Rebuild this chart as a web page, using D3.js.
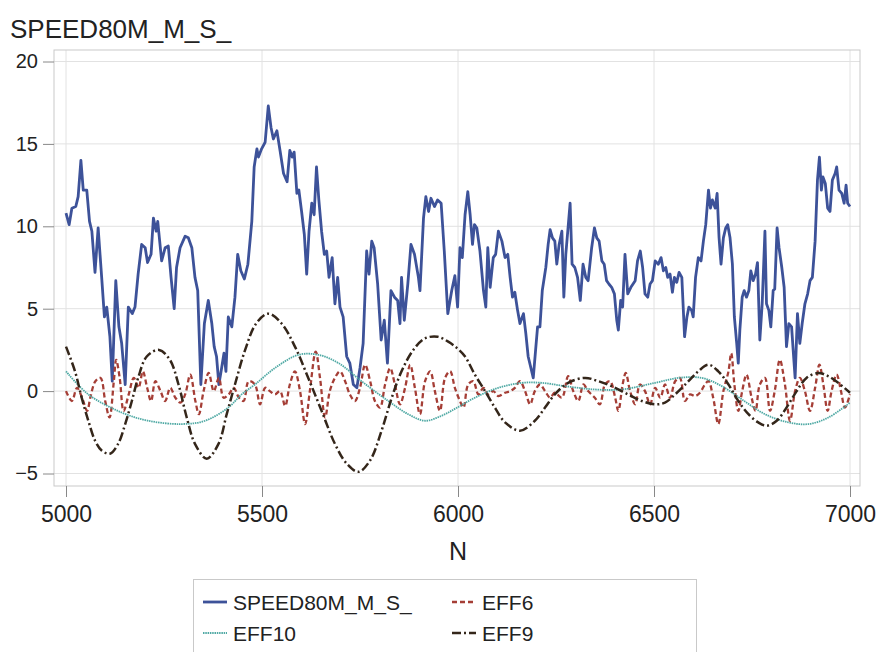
<!DOCTYPE html>
<html>
<head>
<meta charset="utf-8">
<script src="https://cdn.jsdelivr.net/npm/d3@7"></script>
<style>
  body { margin: 0; background: #fff; }
  text { font-family: "Liberation Sans", Arial, sans-serif; fill: #222; }
  .grid line { stroke: #e2e2e2; stroke-width: 1; }
  .axis path { display: none; }
  .axis line { stroke: #888; }
  .axis text { font-size: 20px; fill: #222; }
  .xaxis text { font-family: "Liberation Sans Narrow", "Arial Narrow", "Liberation Sans", sans-serif; font-size: 23px; }
</style>
</head>
<body>
<div id="chart"></div>
<script>
var w = 879;
var h = 652;

// frame of the plot area
var frameL = 54, frameR = 860, frameT = 50, frameB = 486;

var xTicks = [5000, 5500, 6000, 6500, 7000];
var yTicks = [-5, 0, 5, 10, 15, 20];

var seriesNames = ["SPEED80M_M_S_", "EFF6", "EFF10", "EFF9"];

// [N, value]
var speed = [
  [5000,10.8],[5008,10.1],[5015,11.1],[5025,11.2],[5031,11.8],[5038,14.0],[5044,12.2],[5053,12.2],[5060,10.3],[5066,9.7],
  [5074,7.2],[5082,9.9],[5091,6.9],[5098,4.5],[5104,5.1],[5112,3.3],[5118,0.6],[5127,6.7],[5135,3.9],[5142,2.9],
  [5151,0.4],[5159,5.1],[5169,4.7],[5176,5.1],[5184,7.1],[5193,8.9],[5202,8.7],[5208,7.8],[5217,8.3],[5223,10.5],
  [5230,9.7],[5234,10.3],[5244,7.9],[5253,8.7],[5261,8.8],[5268,6.9],[5276,5.0],[5282,7.5],[5291,8.7],[5304,9.4],
  [5312,9.3],[5321,8.7],[5329,6.9],[5336,6.1],[5344,0.4],[5353,4.1],[5363,5.5],[5372,4.1],[5378,2.7],[5384,2.1],
  [5390,0.4],[5397,1.4],[5403,2.3],[5408,1.2],[5414,4.5],[5423,3.9],[5431,5.7],[5438,8.3],[5446,7.3],[5455,6.8],
  [5464,7.7],[5474,10.3],[5480,13.6],[5487,14.7],[5491,14.2],[5499,14.7],[5508,15.1],[5516,17.3],[5523,16.0],[5529,15.3],
  [5538,15.8],[5546,14.6],[5555,13.2],[5564,12.7],[5571,14.6],[5577,14.2],[5582,14.5],[5589,12.0],[5594,12.2],[5601,10.9],
  [5608,9.5],[5614,7.1],[5620,9.7],[5627,11.4],[5633,10.7],[5639,13.6],[5645,11.6],[5652,9.7],[5659,8.3],[5665,8.5],
  [5671,6.9],[5679,8.1],[5686,5.3],[5693,6.9],[5699,5.1],[5707,4.5],[5716,2.1],[5724,1.7],[5733,0.4],[5742,0.2],
  [5750,1.4],[5758,2.9],[5767,8.5],[5773,7.1],[5780,9.1],[5786,8.7],[5795,6.5],[5804,3.1],[5812,4.3],[5820,1.7],
  [5829,6.1],[5838,5.7],[5846,5.5],[5852,4.1],[5856,6.9],[5863,4.3],[5872,6.5],[5880,8.9],[5889,8.3],[5899,6.9],
  [5903,6.1],[5912,10.5],[5918,11.8],[5925,10.9],[5931,11.7],[5940,11.2],[5948,11.6],[5957,11.4],[5965,8.5],[5974,4.7],
  [5984,6.1],[5992,7.0],[5999,5.1],[6005,8.7],[6011,8.1],[6018,10.7],[6025,12.1],[6031,10.7],[6037,8.9],[6042,10.1],
  [6048,9.9],[6056,8.5],[6065,6.1],[6071,5.1],[6076,8.7],[6082,6.3],[6090,8.1],[6096,8.3],[6103,9.7],[6112,9.1],
  [6120,8.1],[6127,8.3],[6133,6.9],[6139,5.7],[6145,6.0],[6152,4.9],[6158,4.1],[6167,4.7],[6173,3.5],[6179,2.1],
  [6186,1.4],[6192,0.8],[6198,2.5],[6203,3.9],[6209,3.9],[6215,6.1],[6224,7.5],[6230,8.9],[6235,9.8],[6241,9.3],
  [6247,9.1],[6252,7.7],[6258,8.9],[6265,9.7],[6270,5.7],[6275,8.3],[6280,9.7],[6286,11.4],[6291,7.7],[6298,7.5],
  [6305,6.9],[6312,5.5],[6319,7.7],[6326,6.9],[6332,6.7],[6341,8.7],[6348,9.9],[6354,9.3],[6360,9.1],[6367,7.9],
  [6373,7.7],[6379,6.7],[6385,6.5],[6392,6.3],[6399,5.9],[6405,4.3],[6409,3.7],[6415,5.5],[6420,5.1],[6426,8.3],
  [6433,5.9],[6441,6.3],[6452,6.7],[6458,7.9],[6465,8.5],[6471,7.5],[6477,5.9],[6484,5.7],[6490,6.5],[6496,6.7],
  [6503,7.9],[6511,7.7],[6518,8.1],[6524,7.3],[6530,7.5],[6535,6.9],[6541,7.1],[6547,6.0],[6552,6.9],[6558,6.6],
  [6564,7.2],[6571,6.9],[6578,3.3],[6584,4.5],[6589,5.1],[6596,4.9],[6600,4.5],[6606,6.9],[6613,8.1],[6620,7.9],
  [6626,9.1],[6632,10.1],[6639,12.2],[6644,11.1],[6649,11.6],[6656,11.1],[6661,12.0],[6666,9.3],[6671,7.7],[6677,9.3],
  [6683,9.9],[6688,10.1],[6694,9.3],[6700,7.7],[6705,4.5],[6711,2.9],[6715,1.7],[6719,3.7],[6725,5.7],[6730,6.1],
  [6736,5.7],[6742,6.1],[6747,7.3],[6753,6.7],[6759,7.1],[6764,7.8],[6770,3.1],[6776,5.3],[6783,9.7],[6787,5.3],
  [6793,4.9],[6798,3.9],[6804,6.1],[6808,6.2],[6814,9.9],[6819,8.7],[6826,7.5],[6832,6.3],[6838,2.7],[6844,4.1],
  [6851,3.9],[6855,2.5],[6860,0.8],[6866,4.7],[6872,2.9],[6878,4.1],[6885,5.3],[6892,5.9],[6898,6.7],[6904,6.9],
  [6911,9.1],[6917,12.8],[6922,14.2],[6927,12.2],[6931,13.0],[6937,12.6],[6943,11.1],[6949,10.9],[6955,12.8],[6962,13.2],
  [6966,13.6],[6972,12.2],[6979,12.0],[6985,11.4],[6990,12.5],[6994,11.4],[7000,11.2]
];

var eff6 = [
  [5000,0.0],[5015,-0.6],[5028,0.2],[5041,-0.4],[5054,-1.2],[5062,-0.4],[5075,0.6],[5088,0.8],[5100,-0.6],[5111,-1.6],
  [5122,0.6],[5128,1.9],[5137,0.8],[5147,-1.2],[5160,-0.2],[5173,0.8],[5185,0.2],[5196,1.2],[5207,0.2],[5217,-0.6],
  [5228,0.6],[5241,0.0],[5253,-0.6],[5266,0.2],[5279,-0.4],[5292,-0.7],[5304,-0.2],[5317,1.0],[5330,-0.6],[5339,-1.4],
  [5351,0.0],[5364,1.1],[5377,0.0],[5390,0.8],[5402,-0.4],[5415,-0.2],[5428,0.2],[5441,-0.4],[5453,-0.6],[5466,0.6],
  [5482,0.4],[5495,-0.8],[5508,0.2],[5520,0.0],[5533,-0.2],[5546,0.0],[5559,-0.9],[5571,0.4],[5584,1.2],[5597,0.0],
  [5610,-2.0],[5622,0.0],[5637,2.4],[5648,0.8],[5661,-1.6],[5673,0.0],[5686,0.8],[5699,1.2],[5712,0.6],[5724,-0.2],
  [5737,-0.6],[5750,0.2],[5763,1.6],[5776,0.6],[5788,-0.6],[5801,-1.0],[5814,0.4],[5827,1.4],[5839,0.4],[5852,-0.8],
  [5865,0.2],[5878,1.6],[5890,0.2],[5903,-1.4],[5916,0.6],[5929,1.2],[5941,0.0],[5954,-1.2],[5967,0.8],[5980,1.2],
  [5992,0.2],[6005,-0.6],[6014,-1.0],[6026,0.4],[6039,0.6],[6052,-0.2],[6065,0.2],[6077,-0.2],[6090,0.0],[6103,-0.3],
  [6120,-0.1],[6133,0.0],[6145,0.2],[6158,0.6],[6171,0.0],[6184,-0.8],[6196,0.0],[6209,0.4],[6222,0.0],[6235,-0.4],
  [6247,-0.1],[6265,-0.4],[6281,0.9],[6294,0.0],[6307,-0.6],[6320,0.4],[6332,0.0],[6349,-0.4],[6362,-0.8],[6375,0.4],
  [6388,0.6],[6401,-0.4],[6409,-1.2],[6420,0.4],[6428,1.1],[6439,0.0],[6452,-0.8],[6464,0.4],[6477,0.0],[6490,-0.8],
  [6503,0.2],[6516,-0.4],[6528,0.4],[6541,-0.4],[6554,0.6],[6566,0.8],[6579,-0.6],[6592,-0.2],[6605,-0.3],[6617,-0.1],
  [6630,0.4],[6639,0.6],[6651,-0.4],[6664,-2.0],[6677,0.0],[6690,1.2],[6697,2.3],[6705,0.4],[6715,-1.2],[6725,0.0],
  [6736,1.0],[6749,-0.4],[6759,-1.2],[6770,0.4],[6783,0.8],[6796,-1.2],[6808,0.0],[6821,1.9],[6834,0.4],[6847,-1.8],
  [6860,0.0],[6872,0.8],[6885,0.0],[6898,-1.2],[6911,0.2],[6922,1.6],[6932,0.4],[6943,-1.2],[6953,0.0],[6966,1.0],
  [6977,0.0],[6987,-1.0],[7000,-0.2]
];

var eff10 = [
  [5000,1.2],[5057,-0.2],[5142,-1.3],[5210,-1.8],[5295,-2.0],[5355,-1.8],[5414,-1.0],[5448,-0.2],[5482,0.4],[5533,1.4],
  [5593,2.2],[5644,2.2],[5695,1.7],[5754,0.6],[5822,-0.6],[5873,-1.4],[5916,-1.8],[5958,-1.5],[5998,-1.0],[6043,-0.4],
  [6103,0.2],[6163,0.5],[6214,0.5],[6273,0.3],[6349,0.1],[6418,0.1],[6503,0.5],[6562,0.8],[6622,0.8],[6673,0.3],
  [6724,-0.5],[6783,-1.4],[6843,-1.9],[6894,-2.0],[6945,-1.6],[7000,-0.7]
];

var eff9 = [
  [5000,2.7],[5023,1.2],[5040,-0.4],[5057,-1.8],[5074,-3.0],[5091,-3.6],[5112,-3.8],[5133,-3.2],[5151,-2.0],[5168,-0.6],
  [5184,0.8],[5206,2.1],[5237,2.5],[5265,1.9],[5287,0.4],[5308,-1.6],[5329,-3.2],[5359,-4.1],[5389,-3.2],[5410,-1.4],
  [5431,0.4],[5457,2.5],[5485,4.1],[5516,4.7],[5550,4.1],[5584,2.7],[5618,0.8],[5652,-1.2],[5686,-3.2],[5716,-4.4],
  [5746,-4.9],[5776,-4.2],[5805,-2.4],[5831,-0.4],[5856,1.2],[5886,2.5],[5916,3.2],[5948,3.3],[5975,3.0],[5998,2.6],
  [6018,2.1],[6043,1.0],[6069,0.0],[6094,-1.0],[6120,-1.9],[6158,-2.4],[6196,-1.8],[6222,-1.0],[6247,-0.2],[6281,0.5],
  [6324,0.8],[6358,0.6],[6392,0.3],[6434,-0.2],[6469,-0.6],[6503,-0.8],[6528,-0.7],[6554,-0.2],[6588,0.6],[6613,1.2],
  [6639,1.6],[6664,1.2],[6690,0.4],[6715,-0.6],[6741,-1.4],[6766,-1.9],[6787,-2.1],[6813,-1.8],[6838,-1.0],[6864,0.0],
  [6889,0.8],[6919,1.1],[6945,0.9],[6970,0.5],[7000,-0.1]
];

function init(){

	var svg = d3.select("#chart")
				.append("svg")
				.attr("width", w)
				.attr("height", h);

	var xScale = d3.scaleLinear()
					.domain([5000, 7000])
					.range([66, 850]);

	var yScale = d3.scaleLinear()
					.domain([-5, 20])
					.range([473.5, 61.5]);

	// title
	svg.append("text")
		.attr("x", 10)
		.attr("y", 38)
		.style("font-size", "26px")
		.text("SPEED80M_M_S_");

	// grid lines
	var grid = svg.append("g").attr("class", "grid");
	grid.selectAll(".gx")
		.data(xTicks)
		.enter()
		.append("line")
		.attr("x1", function(d) { return xScale(d); })
		.attr("x2", function(d) { return xScale(d); })
		.attr("y1", frameT)
		.attr("y2", frameB);
	grid.selectAll(".gy")
		.data(yTicks)
		.enter()
		.append("line")
		.attr("x1", frameL)
		.attr("x2", frameR)
		.attr("y1", function(d) { return yScale(d); })
		.attr("y2", function(d) { return yScale(d); });

	// frame
	svg.append("rect")
		.attr("x", frameL)
		.attr("y", frameT)
		.attr("width", frameR - frameL)
		.attr("height", frameB - frameT)
		.attr("fill", "none")
		.attr("stroke", "#c9c9c9");

	// axes
	var xAxis = d3.axisBottom(xScale)
					.tickValues(xTicks)
					.tickSize(11)
					.tickPadding(9)
					.tickFormat(d3.format("d"));
	svg.append("g")
		.attr("class", "axis xaxis")
		.attr("transform", "translate(0," + frameB + ")")
		.call(xAxis);

	var yAxis = d3.axisLeft(yScale)
					.tickValues(yTicks)
					.tickSize(11)
					.tickPadding(5)
					.tickFormat(d3.format("d"));
	svg.append("g")
		.attr("class", "axis")
		.attr("transform", "translate(" + frameL + ",0)")
		.call(yAxis);

	svg.append("text")
		.attr("x", 458)
		.attr("y", 560)
		.attr("text-anchor", "middle")
		.style("font-family", "'Liberation Sans Narrow', 'Liberation Sans', sans-serif")
		.style("font-size", "25px")
		.text("N");

	svg.append("clipPath")
		.attr("id", "plotclip")
		.append("rect")
		.attr("x", frameL + 1)
		.attr("y", frameT + 1)
		.attr("width", frameR - frameL - 2)
		.attr("height", frameB - frameT - 2);

	var straight = d3.line()
				.x(function(d) { return xScale(d[0]); })
				.y(function(d) { return yScale(d[1]); });

	var smooth = d3.line()
				.curve(d3.curveCatmullRom)
				.x(function(d) { return xScale(d[0]); })
				.y(function(d) { return yScale(d[1]); });

	var styles = [
		{ data: speed, line: straight, color: "#3d5299", width: 2.8, dash: null },
		{ data: eff6,  line: smooth,   color: "#a53e36", width: 2.3, dash: "5,3" },
		{ data: eff10, line: smooth,   color: "#4fa9a4", width: 1.8, dash: "1.5,0.8" },
		{ data: eff9,  line: smooth,   color: "#34261a", width: 2.5, dash: "9,3,2,3" }
	];

	var plot = svg.append("g").attr("clip-path", "url(#plotclip)");
	styles.forEach(function(s) {
		plot.append("path")
			.datum(s.data)
			.attr("d", s.line)
			.attr("fill", "none")
			.attr("stroke", s.color)
			.attr("stroke-width", s.width)
			.attr("stroke-dasharray", s.dash)
			.attr("stroke-linejoin", "round");
	});

	// legend
	var legend = svg.append("g");
	legend.append("rect")
		.attr("x", 193.5)
		.attr("y", 579.5)
		.attr("width", 503)
		.attr("height", 90)
		.attr("fill", "#fff")
		.attr("stroke", "#c9c9c9");

	var legendPos = [[203, 602], [452, 602], [203, 633], [452, 633]];
	styles.forEach(function(s, i) {
		var p = legendPos[i];
		legend.append("line")
			.attr("x1", p[0])
			.attr("x2", p[0] + 24)
			.attr("y1", p[1])
			.attr("y2", p[1])
			.attr("stroke", s.color)
			.attr("stroke-width", s.width)
			.attr("stroke-dasharray", s.dash);
		legend.append("text")
			.attr("x", p[0] + 30)
			.attr("y", p[1] + 8)
			.style("font-size", "21px")
			.text(seriesNames[i]);
	});
}

window.onload = init;
</script>
</body>
</html>
